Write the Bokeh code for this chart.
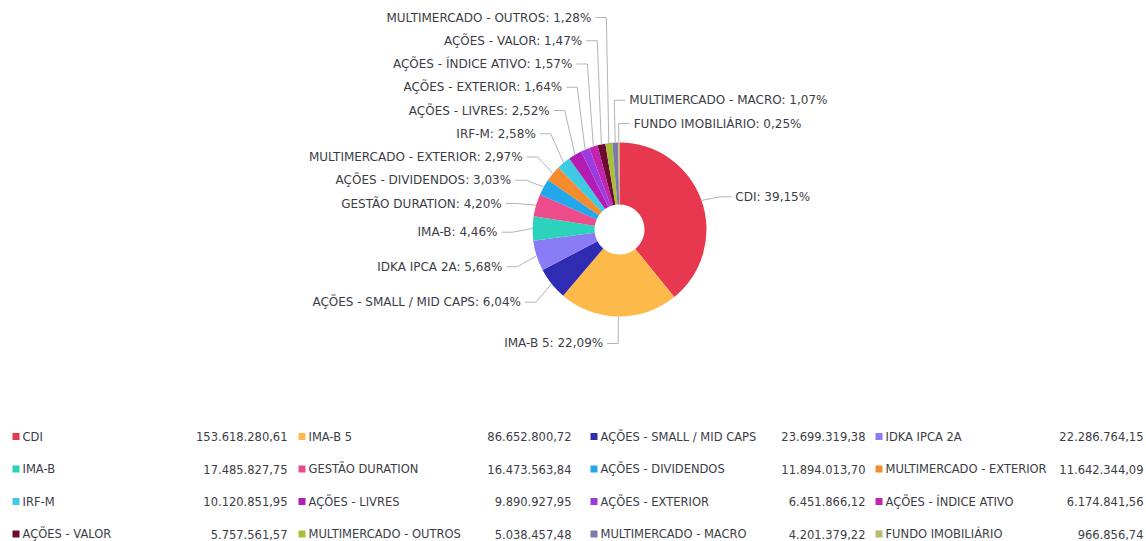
import math
from bokeh.plotting import figure
from bokeh.models import Range1d, ColumnDataSource
from bokeh.embed import file_html
from bokeh.resources import INLINE
from bokeh.core.properties import value

# ---------------- data ----------------
categories = [
    "CDI", "IMA-B 5", "AÇÕES - SMALL / MID CAPS", "IDKA IPCA 2A",
    "IMA-B", "GESTÃO DURATION", "AÇÕES - DIVIDENDOS", "MULTIMERCADO - EXTERIOR",
    "IRF-M", "AÇÕES - LIVRES", "AÇÕES - EXTERIOR", "AÇÕES - ÍNDICE ATIVO",
    "AÇÕES - VALOR", "MULTIMERCADO - OUTROS", "MULTIMERCADO - MACRO", "FUNDO IMOBILIÁRIO",
]
amounts = [
    153618280.61, 86652800.72, 23699319.38, 22286764.15,
    17485827.75, 16473563.84, 11894013.70, 11642344.09,
    10120851.95, 9890927.95, 6451866.12, 6174841.56,
    5757561.57, 5038457.48, 4201379.22, 966856.74,
]
colors = [
    "#e8384f", "#fdb94a", "#2f2cb3", "#8a7cf4",
    "#2bd3bd", "#ec4c8a", "#22a6ec", "#f48b2e",
    "#3ccbe2", "#b41db4", "#9b3ce0", "#c224b0",
    "#6e0a30", "#a8c038", "#7c78a8", "#b8bc70",
]

# ---------------- layout ----------------
W, H = 1146, 541
FONT = value("DejaVu Sans")
TXT = "#3c3c46"
CX, CY = 619, 229          # pie centre (screen px)
R_OUT, R_IN = 87, 25
LABEL_R = R_OUT + 23       # natural label radius
LABEL_DY = 4
ELBOW_R = R_OUT + 20
LABEL_GAP = 23.25
LABEL_TOP = 17
TEXT_PAD = 15
LEG_ROW0, LEG_ROW_STEP = 436, 32.5
LEG_COL_X = [12, 298, 590, 875]
LEG_VAL_RIGHT = [287, 571, 865, 1143]
LEG_FONT_SIZE = "11.5px"


def ydat(sy):
    return H - sy


def fmt_money(v):
    s = f"{v:,.2f}"
    return s.replace(",", "X").replace(".", ",").replace("X", ".")


def fmt_pct(p):
    return f"{p:.2f}".replace(".", ",") + "%"


p = figure(width=W, height=H, output_backend="svg", toolbar_location=None,
           x_range=Range1d(0, W), y_range=Range1d(0, H),
           x_axis_location=None, y_axis_location=None, min_border=0)
p.grid.visible = False
p.outline_line_color = None
p.background_fill_color = "white"

total = sum(amounts)
fracs = [a / total for a in amounts]
cum = [0.0]
for f in fracs:
    cum.append(cum[-1] + f)

start = [math.pi / 2 - 2 * math.pi * cum[i + 1] for i in range(len(fracs))]
end = [math.pi / 2 - 2 * math.pi * cum[i] for i in range(len(fracs))]

pie = ColumnDataSource(dict(x=[CX] * len(fracs), y=[ydat(CY)] * len(fracs),
                            s=start, e=end, c=colors))
p.annular_wedge(x="x", y="y", inner_radius=R_IN, outer_radius=R_OUT,
                inner_radius_units="screen", outer_radius_units="screen",
                start_angle="s", end_angle="e", fill_color="c", line_color=None,
                source=pie)

# ---------------- labels ----------------
mids = [(cum[i] + cum[i + 1]) / 2 * 2 * math.pi for i in range(len(fracs))]
sides = []
for t in mids:
    deg = math.degrees(t)
    sides.append("right" if (deg < 180 or deg > 356) else "left")


def natural(i):
    return CY - math.cos(mids[i]) * LABEL_R + LABEL_DY


def place(idx_list, key):
    idx = sorted(idx_list, key=key)
    ys = [natural(i) for i in idx]
    for k in range(len(ys) - 2, -1, -1):
        ys[k] = min(ys[k], ys[k + 1] - LABEL_GAP)
    prev = LABEL_TOP - LABEL_GAP
    for k in range(len(ys)):
        ys[k] = max(ys[k], prev + LABEL_GAP)
        prev = ys[k]
    return dict(zip(idx, ys))


left_idx = [i for i in range(len(fracs)) if sides[i] == "left"]
right_idx = [i for i in range(len(fracs)) if sides[i] == "right"]
label_y = {}
label_y.update(place(left_idx, key=natural))
label_y.update(place(right_idx, key=lambda i: (mids[i] - 2 * math.pi) if mids[i] > math.pi else mids[i]))

lx, ly, lt, la = [], [], [], []
cxs, cys = [], []
for i in range(len(fracs)):
    t = mids[i]
    sy = label_y[i]
    ex = CX + ELBOW_R * math.sin(t)
    px = CX + R_OUT * math.sin(t)
    py = CY - R_OUT * math.cos(t)
    if sides[i] == "left":
        tx = ex - TEXT_PAD
        hx = tx + 4
        la.append("right")
    else:
        tx = ex + TEXT_PAD
        hx = tx - 4
        la.append("left")
    lx.append(tx)
    ly.append(ydat(sy))
    lt.append(f"{categories[i]}: {fmt_pct(fracs[i] * 100)}")
    cxs.append([hx, ex, px])
    cys.append([ydat(sy), ydat(sy), ydat(py)])

p.multi_line(xs=cxs, ys=cys, line_color="#b4b4b4", line_width=1)
p.text(x=lx, y=ly, text=lt, text_align=la, text_baseline="middle",
       text_font=FONT, text_font_size="12px", text_color=TXT)

# ---------------- legend ----------------
sx, sy_, nx, vx, ntxt, vtxt = [], [], [], [], [], []
for i in range(len(categories)):
    r, c = divmod(i, 4)
    yy = ydat(LEG_ROW0 + r * LEG_ROW_STEP)
    sx.append(LEG_COL_X[c] + 3.5)
    sy_.append(yy)
    nx.append(LEG_COL_X[c] + 10)
    vx.append(LEG_VAL_RIGHT[c])
    ntxt.append(categories[i])
    vtxt.append(fmt_money(amounts[i]))

p.rect(x=sx, y=sy_, width=7, height=7, width_units="screen", height_units="screen",
       fill_color=colors, line_color=None)
p.text(x=nx, y=sy_, text=ntxt, text_align="left", text_baseline="middle",
       text_font=FONT, text_font_size=LEG_FONT_SIZE, text_color=TXT)
p.text(x=vx, y=sy_, text=vtxt, text_align="right", text_baseline="middle",
       text_font=FONT, text_font_size=LEG_FONT_SIZE, text_color=TXT)

open("out.html", "w").write(file_html(p, INLINE))
